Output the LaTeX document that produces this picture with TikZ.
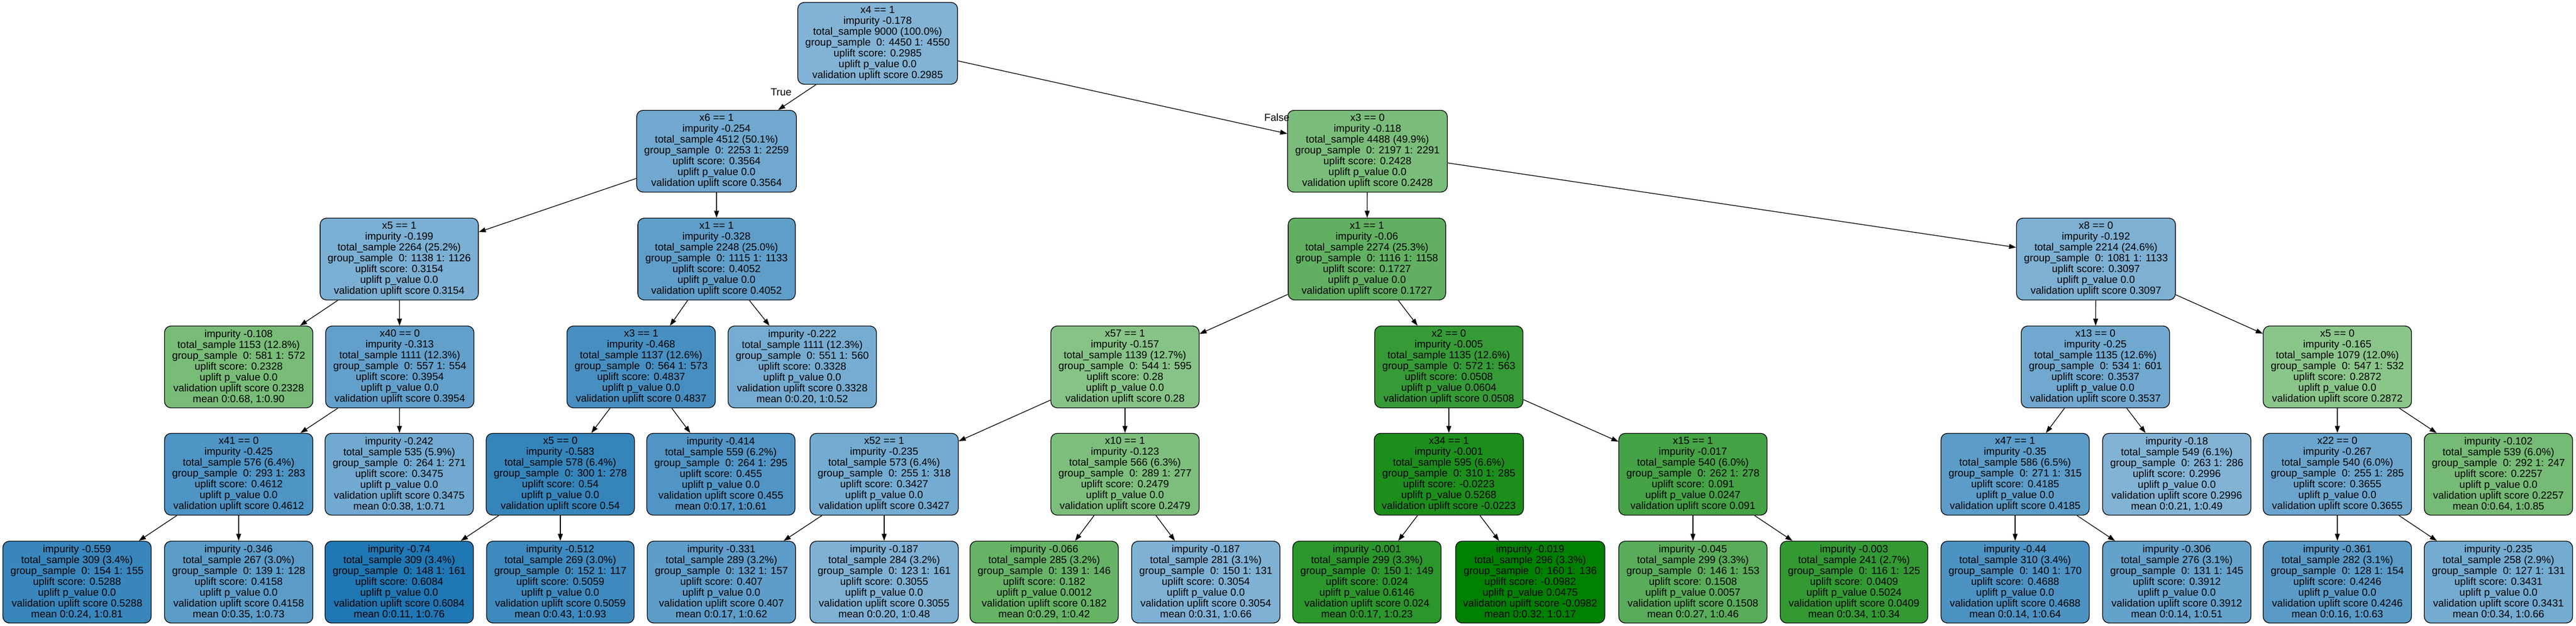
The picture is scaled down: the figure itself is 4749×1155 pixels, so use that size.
\documentclass[tikz,border=0pt]{standalone}
\usepackage{fontspec}
\setmainfont{Liberation Sans}
\usetikzlibrary{arrows.meta}
\definecolor{tblue}{HTML}{1F77B4}
\definecolor{tgreen}{HTML}{008000}
\begin{document}
\begin{tikzpicture}
[treenode/.style={shape=rectangle,rounded corners=12pt,draw=black,line width=1.3pt,%
  align=center,inner xsep=14pt,inner ysep=0pt,minimum height=151pt,%
  font=\fontsize{19}{20}\selectfont},%
  linkline/.style={-{Triangle[length=13pt,width=9pt]},line width=1.3pt},%
  edgelabel/.style={inner sep=0pt,font=\fontsize{19}{20}\selectfont},%
  x=1pt,y=-1pt]
\fill[white] (0,0) rectangle (4749,1155);
\useasboundingbox (0,0) rectangle (4749,1155);
%% split nodes
\foreach \nodename/\x/\y/\shade/\nodetext in {
  root/1618/80/tblue!56/{x4 == 1\\impurity -0.178\\total\_sample 9000 (100.0\%)\\group\_sample~ 0: 4450 1: 4550\\uplift score: 0.2985\\uplift p\_value 0.0\\validation uplift score 0.2985},
  x6/1321/279/tblue!64/{x6 == 1\\impurity -0.254\\total\_sample 4512 (50.1\%)\\group\_sample~ 0: 2253 1: 2259\\uplift score: 0.3564\\uplift p\_value 0.0\\validation uplift score 0.3564},
  x3a/2521/279/tgreen!52/{x3 == 0\\impurity -0.118\\total\_sample 4488 (49.9\%)\\group\_sample~ 0: 2197 1: 2291\\uplift score: 0.2428\\uplift p\_value 0.0\\validation uplift score 0.2428},
  x5a/736/478/tblue!59/{x5 == 1\\impurity -0.199\\total\_sample 2264 (25.2\%)\\group\_sample~ 0: 1138 1: 1126\\uplift score: 0.3154\\uplift p\_value 0.0\\validation uplift score 0.3154},
  x1a/1321/478/tblue!71/{x1 == 1\\impurity -0.328\\total\_sample 2248 (25.0\%)\\group\_sample~ 0: 1115 1: 1133\\uplift score: 0.4052\\uplift p\_value 0.0\\validation uplift score 0.4052},
  x1b/2520/478/tgreen!62/{x1 == 1\\impurity -0.06\\total\_sample 2274 (25.3\%)\\group\_sample~ 0: 1116 1: 1158\\uplift score: 0.1727\\uplift p\_value 0.0\\validation uplift score 0.1727},
  x8/3864/478/tblue!58/{x8 == 0\\impurity -0.192\\total\_sample 2214 (24.6\%)\\group\_sample~ 0: 1081 1: 1133\\uplift score: 0.3097\\uplift p\_value 0.0\\validation uplift score 0.3097},
  x40/737/677/tblue!70/{x40 == 0\\impurity -0.313\\total\_sample 1111 (12.3\%)\\group\_sample~ 0: 557 1: 554\\uplift score: 0.3954\\uplift p\_value 0.0\\validation uplift score 0.3954},
  x3b/1182/677/tblue!82/{x3 == 1\\impurity -0.468\\total\_sample 1137 (12.6\%)\\group\_sample~ 0: 564 1: 573\\uplift score: 0.4837\\uplift p\_value 0.0\\validation uplift score 0.4837},
  x57/2074/677/tgreen!47/{x57 == 1\\impurity -0.157\\total\_sample 1139 (12.7\%)\\group\_sample~ 0: 544 1: 595\\uplift score: 0.28\\uplift p\_value 0.0\\validation uplift score 0.28},
  x2/2671/677/tgreen!79/{x2 == 0\\impurity -0.005\\total\_sample 1135 (12.6\%)\\group\_sample~ 0: 572 1: 563\\uplift score: 0.0508\\uplift p\_value 0.0604\\validation uplift score 0.0508},
  x13/3863/677/tblue!64/{x13 == 0\\impurity -0.25\\total\_sample 1135 (12.6\%)\\group\_sample~ 0: 534 1: 601\\uplift score: 0.3537\\uplift p\_value 0.0\\validation uplift score 0.3537},
  x5c/4309/677/tgreen!46/{x5 == 0\\impurity -0.165\\total\_sample 1079 (12.0\%)\\group\_sample~ 0: 547 1: 532\\uplift score: 0.2872\\uplift p\_value 0.0\\validation uplift score 0.2872},
  x41/440/875/tblue!79/{x41 == 0\\impurity -0.425\\total\_sample 576 (6.4\%)\\group\_sample~ 0: 293 1: 283\\uplift score: 0.4612\\uplift p\_value 0.0\\validation uplift score 0.4612},
  x5b/1033/875/tblue!90/{x5 == 0\\impurity -0.583\\total\_sample 578 (6.4\%)\\group\_sample~ 0: 300 1: 278\\uplift score: 0.54\\uplift p\_value 0.0\\validation uplift score 0.54},
  x52/1630/875/tblue!62/{x52 == 1\\impurity -0.235\\total\_sample 573 (6.4\%)\\group\_sample~ 0: 255 1: 318\\uplift score: 0.3427\\uplift p\_value 0.0\\validation uplift score 0.3427},
  x10/2074/875/tgreen!51/{x10 == 1\\impurity -0.123\\total\_sample 566 (6.3\%)\\group\_sample~ 0: 289 1: 277\\uplift score: 0.2479\\uplift p\_value 0.0\\validation uplift score 0.2479},
  x34/2671/875/tgreen!89/{x34 == 1\\impurity -0.001\\total\_sample 595 (6.6\%)\\group\_sample~ 0: 310 1: 285\\uplift score: -0.0223\\uplift p\_value 0.5268\\validation uplift score -0.0223},
  x15/3121/875/tgreen!73/{x15 == 1\\impurity -0.017\\total\_sample 540 (6.0\%)\\group\_sample~ 0: 262 1: 278\\uplift score: 0.091\\uplift p\_value 0.0247\\validation uplift score 0.091},
  x47/3715/875/tblue!73/{x47 == 1\\impurity -0.35\\total\_sample 586 (6.5\%)\\group\_sample~ 0: 271 1: 315\\uplift score: 0.4185\\uplift p\_value 0.0\\validation uplift score 0.4185},
  x22/4309/875/tblue!66/{x22 == 0\\impurity -0.267\\total\_sample 540 (6.0\%)\\group\_sample~ 0: 255 1: 285\\uplift score: 0.3655\\uplift p\_value 0.0\\validation uplift score 0.3655}} {
  \node (\nodename) at (\x,\y) [treenode,fill=\shade] {\nodetext};
}
%% leaves
\foreach \nodename/\x/\y/\shade/\nodetext in {
  l108/440/677/tgreen!53/{impurity -0.108\\total\_sample 1153 (12.8\%)\\group\_sample~ 0: 581 1: 572\\uplift score: 0.2328\\uplift p\_value 0.0\\validation uplift score 0.2328\\mean 0:0.68, 1:0.90},
  l222/1479/677/tblue!61/{impurity -0.222\\total\_sample 1111 (12.3\%)\\group\_sample~ 0: 551 1: 560\\uplift score: 0.3328\\uplift p\_value 0.0\\validation uplift score 0.3328\\mean 0:0.20, 1:0.52},
  l242/736/875/tblue!63/{impurity -0.242\\total\_sample 535 (5.9\%)\\group\_sample~ 0: 264 1: 271\\uplift score: 0.3475\\uplift p\_value 0.0\\validation uplift score 0.3475\\mean 0:0.38, 1:0.71},
  l414/1329/875/tblue!78/{impurity -0.414\\total\_sample 559 (6.2\%)\\group\_sample~ 0: 264 1: 295\\uplift score: 0.455\\uplift p\_value 0.0\\validation uplift score 0.455\\mean 0:0.17, 1:0.61},
  l18/4013/875/tblue!56/{impurity -0.18\\total\_sample 549 (6.1\%)\\group\_sample~ 0: 263 1: 286\\uplift score: 0.2996\\uplift p\_value 0.0\\validation uplift score 0.2996\\mean 0:0.21, 1:0.49},
  l102/4606/875/tgreen!54/{impurity -0.102\\total\_sample 539 (6.0\%)\\group\_sample~ 0: 292 1: 247\\uplift score: 0.2257\\uplift p\_value 0.0\\validation uplift score 0.2257\\mean 0:0.64, 1:0.85},
  l559/142/1074/tblue!89/{impurity -0.559\\total\_sample 309 (3.4\%)\\group\_sample~ 0: 154 1: 155\\uplift score: 0.5288\\uplift p\_value 0.0\\validation uplift score 0.5288\\mean 0:0.24, 1:0.81},
  l346/440/1074/tblue!73/{impurity -0.346\\total\_sample 267 (3.0\%)\\group\_sample~ 0: 139 1: 128\\uplift score: 0.4158\\uplift p\_value 0.0\\validation uplift score 0.4158\\mean 0:0.35, 1:0.73},
  l74/736/1074/tblue!100/{impurity -0.74\\total\_sample 309 (3.4\%)\\group\_sample~ 0: 148 1: 161\\uplift score: 0.6084\\uplift p\_value 0.0\\validation uplift score 0.6084\\mean 0:0.11, 1:0.76},
  l512/1033/1074/tblue!86/{impurity -0.512\\total\_sample 269 (3.0\%)\\group\_sample~ 0: 152 1: 117\\uplift score: 0.5059\\uplift p\_value 0.0\\validation uplift score 0.5059\\mean 0:0.43, 1:0.93},
  l331/1330/1074/tblue!72/{impurity -0.331\\total\_sample 289 (3.2\%)\\group\_sample~ 0: 132 1: 157\\uplift score: 0.407\\uplift p\_value 0.0\\validation uplift score 0.407\\mean 0:0.17, 1:0.62},
  l187a/1630/1074/tblue!57/{impurity -0.187\\total\_sample 284 (3.2\%)\\group\_sample~ 0: 123 1: 161\\uplift score: 0.3055\\uplift p\_value 0.0\\validation uplift score 0.3055\\mean 0:0.20, 1:0.48},
  l066/1925/1074/tgreen!60/{impurity -0.066\\total\_sample 285 (3.2\%)\\group\_sample~ 0: 139 1: 146\\uplift score: 0.182\\uplift p\_value 0.0012\\validation uplift score 0.182\\mean 0:0.29, 1:0.42},
  l187b/2223/1074/tblue!57/{impurity -0.187\\total\_sample 281 (3.1\%)\\group\_sample~ 0: 150 1: 131\\uplift score: 0.3054\\uplift p\_value 0.0\\validation uplift score 0.3054\\mean 0:0.31, 1:0.66},
  l001/2520/1074/tgreen!83/{impurity -0.001\\total\_sample 299 (3.3\%)\\group\_sample~ 0: 150 1: 149\\uplift score: 0.024\\uplift p\_value 0.6146\\validation uplift score 0.024\\mean 0:0.17, 1:0.23},
  l019/2821/1074/tgreen!100/{impurity -0.019\\total\_sample 296 (3.3\%)\\group\_sample~ 0: 160 1: 136\\uplift score: -0.0982\\uplift p\_value 0.0475\\validation uplift score -0.0982\\mean 0:0.32, 1:0.17},
  l045/3121/1074/tgreen!65/{impurity -0.045\\total\_sample 299 (3.3\%)\\group\_sample~ 0: 146 1: 153\\uplift score: 0.1508\\uplift p\_value 0.0057\\validation uplift score 0.1508\\mean 0:0.27, 1:0.46},
  l003/3418/1074/tgreen!80/{impurity -0.003\\total\_sample 241 (2.7\%)\\group\_sample~ 0: 116 1: 125\\uplift score: 0.0409\\uplift p\_value 0.5024\\validation uplift score 0.0409\\mean 0:0.34, 1:0.34},
  l44/3715/1074/tblue!80/{impurity -0.44\\total\_sample 310 (3.4\%)\\group\_sample~ 0: 140 1: 170\\uplift score: 0.4688\\uplift p\_value 0.0\\validation uplift score 0.4688\\mean 0:0.14, 1:0.64},
  l306/4013/1074/tblue!69/{impurity -0.306\\total\_sample 276 (3.1\%)\\group\_sample~ 0: 131 1: 145\\uplift score: 0.3912\\uplift p\_value 0.0\\validation uplift score 0.3912\\mean 0:0.14, 1:0.51},
  l361/4309/1074/tblue!74/{impurity -0.361\\total\_sample 282 (3.1\%)\\group\_sample~ 0: 128 1: 154\\uplift score: 0.4246\\uplift p\_value 0.0\\validation uplift score 0.4246\\mean 0:0.16, 1:0.63},
  l235/4606/1074/tblue!62/{impurity -0.235\\total\_sample 258 (2.9\%)\\group\_sample~ 0: 127 1: 131\\uplift score: 0.3431\\uplift p\_value 0.0\\validation uplift score 0.3431\\mean 0:0.34, 1:0.66}} {
  \node (\nodename) at (\x,\y) [treenode,fill=\shade] {\nodetext};
}
%% edges
\path
\foreach \startnode/\endnode in {root/x6, root/x3a, x6/x5a, x6/x1a, x3a/x1b, x3a/x8,
  x5a/l108, x5a/x40, x1a/x3b, x1a/l222, x1b/x57, x1b/x2, x8/x13, x8/x5c,
  x40/x41, x40/l242, x3b/x5b, x3b/l414, x57/x52, x57/x10, x2/x34, x2/x15,
  x13/x47, x13/l18, x5c/x22, x5c/l102, x41/l559, x41/l346, x5b/l74, x5b/l512,
  x52/l331, x52/l187a, x10/l066, x10/l187b, x34/l001, x34/l019, x15/l045, x15/l003,
  x47/l44, x47/l306, x22/l361, x22/l235} {
  (\startnode) edge[linkline] (\endnode)
};
\node (truelabel) at (1440,170) [edgelabel] {True};
\node (falselabel) at (2354,217) [edgelabel] {False};
\end{tikzpicture}
\end{document}
